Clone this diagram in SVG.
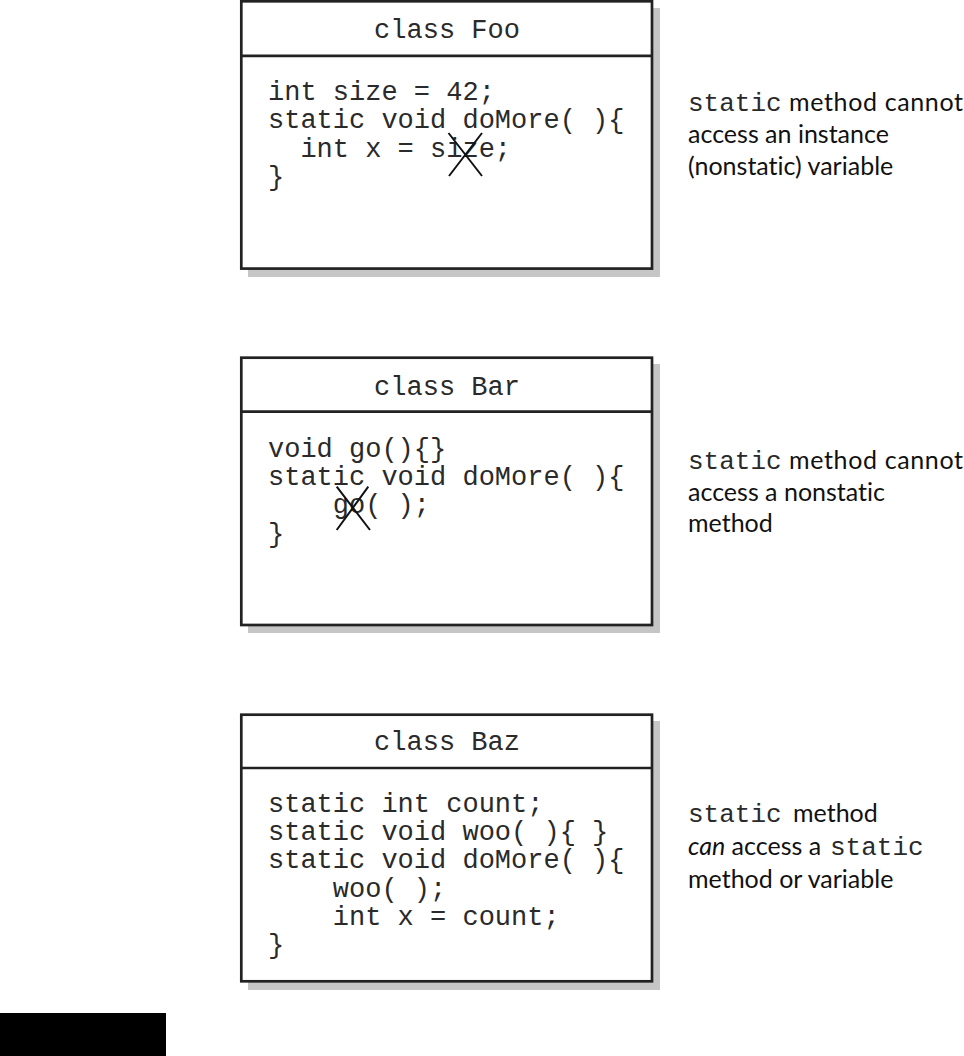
<svg xmlns="http://www.w3.org/2000/svg" width="964" height="1056" viewBox="0 0 964 1056">
<style>
.shadow{fill:#c6c6c6}
.box{fill:#fff;stroke:#222;stroke-width:2.7}
.div{stroke:#222;stroke-width:2.7}
.code{font-family:"Liberation Mono","Courier New",monospace;font-size:27px;fill:#2a2a2a}
.title{font-family:"Liberation Mono","Courier New",monospace;font-size:27px;fill:#2a2a2a;text-anchor:middle}
.note{font-family:Lato,"Open Sans",sans-serif;font-size:25px;fill:#111;font-variant-ligatures:none}
.mono{font-family:"Liberation Mono","Courier New",monospace;font-size:26px;fill:#2a2a2a}
.x{stroke:#111;stroke-width:2;fill:none}
</style>
<rect width="964" height="1056" fill="#fff"/>

<g id="foo">
<rect class="shadow" x="248" y="8" width="412" height="269"/>
<rect class="box" x="241.3" y="1.3" width="410.7" height="267.3"/>
<line class="div" x1="241.3" y1="55.8" x2="652" y2="55.8"/>
<text class="title" x="447" y="38">class Foo</text>
<text class="code" x="268" y="100">int size = 42;</text>
<text class="code" x="268" y="128.3">static void doMore( ){</text>
<text class="code" x="268" y="156.7" xml:space="preserve">  int x = size;</text>
<text class="code" x="268" y="185">}</text>
<path class="x" d="M448.5,133 L482,176 M482,133 L449,176"/>
</g>

<g id="foo-note">
<text class="mono" x="688" y="111">static</text>
<text class="note" x="789" y="111" textLength="174" lengthAdjust="spacing">method cannot</text>
<text class="note" x="688" y="143">access an instance</text>
<text class="note" x="688" y="174.5">(nonstatic) variable</text>
</g>

<g id="bar">
<rect class="shadow" x="248" y="364" width="412" height="269"/>
<rect class="box" x="241.3" y="357.7" width="410.7" height="267.3"/>
<line class="div" x1="241.3" y1="411.7" x2="652" y2="411.7"/>
<text class="title" x="447" y="395">class Bar</text>
<text class="code" x="268" y="456.7">void go(){}</text>
<text class="code" x="268" y="485">static void doMore( ){</text>
<text class="code" x="268" y="513.3" xml:space="preserve">    go( );</text>
<text class="code" x="268" y="541.7">}</text>
<path class="x" d="M336.7,486.7 L370,530 M336.7,530 L368.3,486.7"/>
</g>

<g id="bar-note">
<text class="mono" x="688" y="469">static</text>
<text class="note" x="789" y="469" textLength="174" lengthAdjust="spacing">method cannot</text>
<text class="note" x="688" y="500.5">access a nonstatic</text>
<text class="note" x="688" y="532">method</text>
</g>

<g id="baz">
<rect class="shadow" x="248" y="721" width="412" height="269"/>
<rect class="box" x="241.3" y="714.7" width="410.7" height="266.6"/>
<line class="div" x1="241.3" y1="768" x2="652" y2="768"/>
<text class="title" x="447" y="750">class Baz</text>
<text class="code" x="268" y="811.7">static int count;</text>
<text class="code" x="268" y="840">static void woo( ){ }</text>
<text class="code" x="268" y="868.3">static void doMore( ){</text>
<text class="code" x="268" y="896.7" xml:space="preserve">    woo( );</text>
<text class="code" x="268" y="925" xml:space="preserve">    int x = count;</text>
<text class="code" x="268" y="953.3">}</text>
</g>

<g id="baz-note">
<text class="mono" x="688" y="822">static</text>
<text class="note" x="793" y="822">method</text>
<text class="note" x="688" y="855"><tspan font-style="italic">can</tspan> access a</text>
<text class="mono" x="830" y="855">static</text>
<text class="note" x="688" y="888">method or variable</text>
</g>

<rect id="bar-black" x="0" y="1013" width="166" height="43" fill="#000"/>
<g id="connectors"/>
</svg>
